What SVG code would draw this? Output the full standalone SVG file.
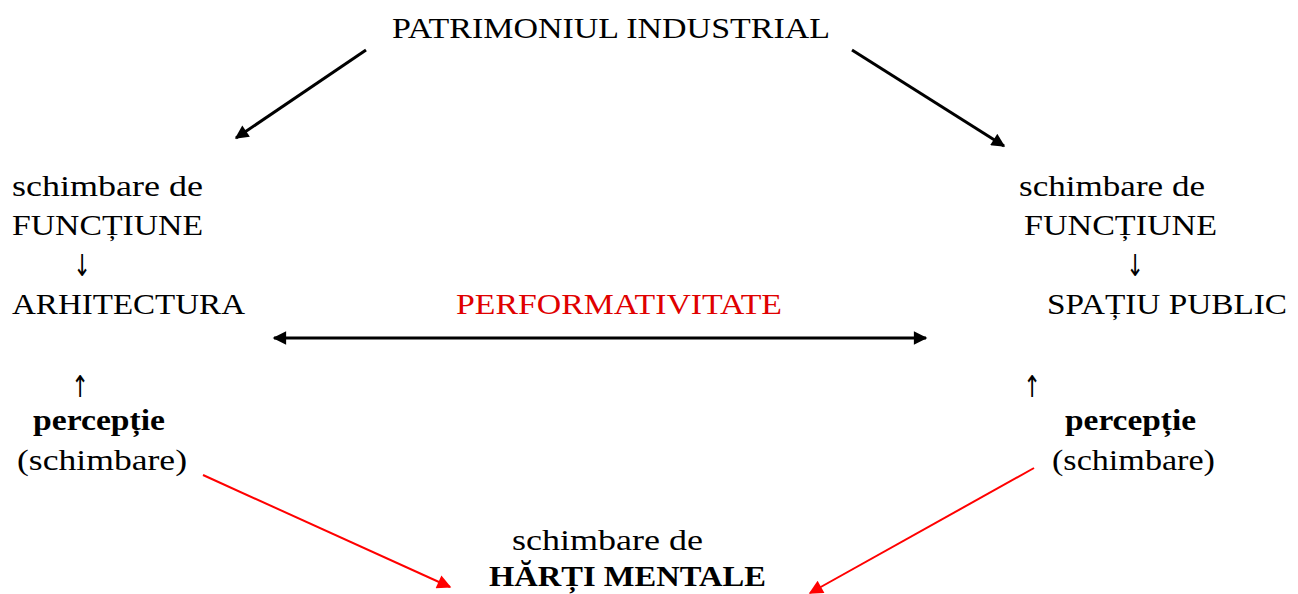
<svg xmlns="http://www.w3.org/2000/svg" width="1298" height="594" viewBox="0 0 1298 594">
<style>
text{font-family:"Liberation Serif","DejaVu Serif",serif;font-size:29px;fill:#000}
.b{font-weight:bold}
.r{fill:#e00000}
.ar{font-family:"DejaVu Sans",sans-serif;font-size:30px;fill:#000}
.k{stroke:#000;stroke-width:3;fill:none}
.rl{stroke:#ff0000;stroke-width:2;fill:none}
</style>
<defs>
<marker id="ak" viewBox="0 0 10 10" refX="9" refY="5" markerWidth="5" markerHeight="4.5" orient="auto-start-reverse" markerUnits="strokeWidth"><path d="M0,0 L10,5 L0,10 z" fill="#000"/></marker>
<marker id="ar" viewBox="0 0 10 10" refX="9" refY="5" markerWidth="8" markerHeight="7" orient="auto" markerUnits="strokeWidth"><path d="M0,0 L10,5 L0,10 z" fill="#ff0000"/></marker>
</defs>
<g id="top"><text x="392" y="38" textLength="438" lengthAdjust="spacingAndGlyphs">PATRIMONIUL INDUSTRIAL</text></g>
<g id="left">
<text x="12" y="196" textLength="191" lengthAdjust="spacingAndGlyphs">schimbare de</text>
<text x="12" y="235" textLength="191" lengthAdjust="spacingAndGlyphs">FUNCȚIUNE</text>
<text class="ar" x="82" y="276" text-anchor="middle" transform="translate(82 0) scale(0.7 1) translate(-82 0)">↓</text>
<text x="12" y="314" textLength="233" lengthAdjust="spacingAndGlyphs">ARHITECTURA</text>
</g>
<g id="right">
<text x="1019" y="196" textLength="186" lengthAdjust="spacingAndGlyphs">schimbare de</text>
<text x="1024" y="235" textLength="193" lengthAdjust="spacingAndGlyphs">FUNCȚIUNE</text>
<text class="ar" x="1135" y="276" text-anchor="middle" transform="translate(1135 0) scale(0.7 1) translate(-1135 0)">↓</text>
<text x="1047" y="314" textLength="240" lengthAdjust="spacingAndGlyphs">SPAȚIU PUBLIC</text>
</g>
<g id="center"><text class="r" x="456" y="314" textLength="326" lengthAdjust="spacingAndGlyphs">PERFORMATIVITATE</text></g>
<g id="left-perc">
<text class="ar" x="80" y="397" text-anchor="middle" transform="translate(80 0) scale(0.7 1) translate(-80 0)">↑</text>
<text class="b" x="33" y="430" textLength="132" lengthAdjust="spacingAndGlyphs">percepție</text>
<text x="17" y="470" textLength="170" lengthAdjust="spacingAndGlyphs">(schimbare)</text>
</g>
<g id="right-perc">
<text class="ar" x="1032" y="397" text-anchor="middle" transform="translate(1032 0) scale(0.7 1) translate(-1032 0)">↑</text>
<text class="b" x="1065" y="430" textLength="131" lengthAdjust="spacingAndGlyphs">percepție</text>
<text x="1052" y="470" textLength="163" lengthAdjust="spacingAndGlyphs">(schimbare)</text>
</g>
<g id="bottom">
<text x="512" y="550" textLength="191" lengthAdjust="spacingAndGlyphs">schimbare de</text>
<text class="b" x="489" y="586" textLength="277" lengthAdjust="spacingAndGlyphs">HĂRȚI MENTALE</text>
</g>
<g id="connectors">
<line class="k" x1="366" y1="50" x2="236" y2="138" marker-end="url(#ak)"/>
<line class="k" x1="852" y1="50" x2="1004" y2="146" marker-end="url(#ak)"/>
<line class="k" x1="274" y1="338" x2="926" y2="338" marker-start="url(#ak)" marker-end="url(#ak)"/>
<line class="rl" x1="203" y1="475" x2="450" y2="587" marker-end="url(#ar)"/>
<line class="rl" x1="1034" y1="468" x2="810" y2="593" marker-end="url(#ar)"/>
</g>
</svg>
